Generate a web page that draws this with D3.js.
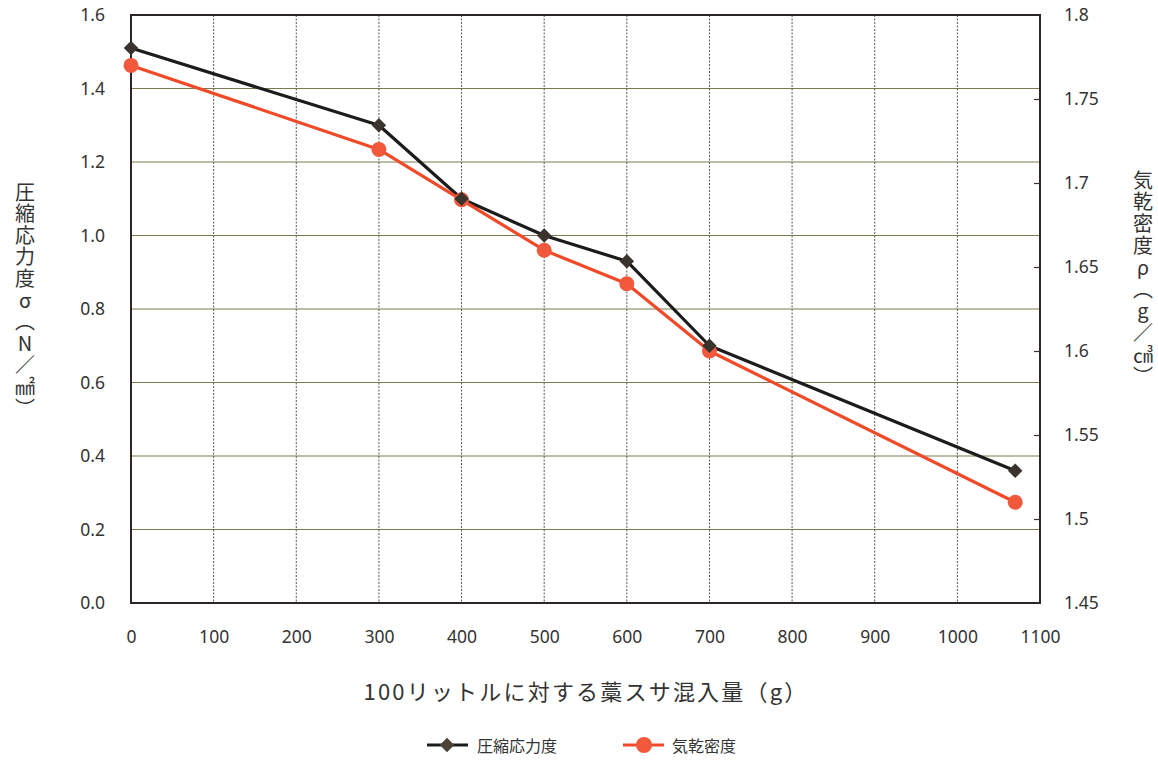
<!DOCTYPE html>
<html>
<head>
<meta charset="utf-8">
<script src="https://cdn.jsdelivr.net/npm/d3@7"></script>
<style>
  html, body { margin: 0; padding: 0; background: #fff; }
  svg { display: block; }
  text { font-family: "Noto Sans CJK JP", "Noto Sans", sans-serif; fill: #333; }
  .vtitle { writing-mode: vertical-rl; text-orientation: upright; }
</style>
</head>
<body>
<svg id="chart" width="1158" height="767"></svg>
<script>
// Straw fibre mixed per 100 litres (g)
const amounts = [0, 300, 400, 500, 600, 700, 1070];
// Compressive stress σ (N/mm²)
const stress = [1.51, 1.30, 1.10, 1.00, 0.93, 0.70, 0.36];
// Air-dry density ρ (g/cm³)
const density = [1.77, 1.72, 1.69, 1.66, 1.64, 1.60, 1.51];

const xTicks = [0, 100, 200, 300, 400, 500, 600, 700, 800, 900, 1000, 1100];
const leftTicks = [0.0, 0.2, 0.4, 0.6, 0.8, 1.0, 1.2, 1.4, 1.6];
const rightTicks = [1.45, 1.5, 1.55, 1.6, 1.65, 1.7, 1.75, 1.8];

const seriesNames = ["圧縮応力度", "気乾密度"];
const xTitle = "100リットルに対する藁スサ混入量（g）";
const leftTitle = "圧縮応力度σ（N／㎟）";
const rightTitle = "気乾密度ρ（g／㎤）";

const box = { left: 131, right: 1040, top: 15, bottom: 603 };
const svg = d3.select("#chart");

const x = d3.scaleLinear().domain([0, 1100]).range([box.left, box.right]);
const yL = d3.scaleLinear().domain([0, 1.6]).range([box.bottom, box.top]);
const yR = d3.scaleLinear().domain([1.45, 1.8]).range([box.bottom, box.top]);

const blackCol = "#1c1c1c";
const redCol = "#f04a28";

// horizontal grid
svg.append("g")
  .selectAll("line")
  .data(leftTicks.filter(d => d > 0 && d < 1.6))
  .join("line")
  .attr("x1", box.left).attr("x2", box.right)
  .attr("y1", d => yL(d)).attr("y2", d => yL(d))
  .attr("stroke", "#7d7a52").attr("stroke-width", 1.1);

// vertical grid
svg.append("g")
  .selectAll("line")
  .data(xTicks.filter(d => d > 0 && d < 1100))
  .join("line")
  .attr("x1", d => x(d)).attr("x2", d => x(d))
  .attr("y1", box.top).attr("y2", box.bottom)
  .attr("stroke", "#555").attr("stroke-width", 1)
  .attr("stroke-dasharray", "2,1.5");

// frame
svg.append("rect")
  .attr("x", box.left).attr("y", box.top)
  .attr("width", box.right - box.left).attr("height", box.bottom - box.top)
  .attr("fill", "none").attr("stroke", "#2e2624").attr("stroke-width", 2);

// axes
const fmt1 = d3.format(".1f");
const gL = svg.append("g")
  .attr("transform", `translate(${box.left},0)`)
  .call(d3.axisLeft(yL).tickValues(leftTicks).tickFormat(fmt1).tickSize(0).tickPadding(26));
const gR = svg.append("g")
  .attr("transform", `translate(${box.right},0)`)
  .call(d3.axisRight(yR).tickValues(rightTicks).tickFormat(d => String(+d.toFixed(2))).tickSizeInner(-6).tickSizeOuter(0).tickPadding(24));
const gB = svg.append("g")
  .attr("transform", `translate(0,${box.bottom})`)
  .call(d3.axisBottom(x).tickValues(xTicks).tickFormat(d3.format("d")).tickSize(0).tickPadding(28));

[gL, gR, gB].forEach(g => {
  g.select(".domain").remove();
  g.selectAll(".tick text")
    .attr("font-size", 17.5)
    .attr("fill", "#333")
    .style("font-family", "'Noto Sans', 'Open Sans', sans-serif");
});
gR.selectAll(".tick line").attr("stroke", "#3a3030").attr("stroke-width", 1.2);
// no inward ticks where the frame already closes the axis
gR.selectAll(".tick").filter(d => d === 1.45 || d === 1.8).select("line").remove();

// lines
const lineL = d3.line().x((d, i) => x(amounts[i])).y(d => yL(d));
const lineR = d3.line().x((d, i) => x(amounts[i])).y(d => yR(d));

svg.append("path").datum(stress)
  .attr("d", lineL).attr("fill", "none")
  .attr("stroke", blackCol).attr("stroke-width", 3.2).attr("stroke-linejoin", "round");

svg.append("path").datum(density)
  .attr("d", lineR).attr("fill", "none")
  .attr("stroke", redCol).attr("stroke-width", 3.2).attr("stroke-linejoin", "round");

const diamond = d3.symbol().type(d3.symbolSquare).size(105);

svg.append("g").selectAll("circle")
  .data(density)
  .join("circle")
  .attr("cx", (d, i) => x(amounts[i])).attr("cy", d => yR(d))
  .attr("r", 7.5).attr("fill", "#f2593c");

svg.append("g").selectAll("path")
  .data(stress)
  .join("path")
  .attr("d", diamond)
  .attr("transform", (d, i) => `translate(${x(amounts[i])},${yL(d)}) rotate(45)`)
  .attr("fill", "#3a342c");

// axis titles
svg.append("text")
  .attr("x", 586).attr("y", 700)
  .attr("text-anchor", "middle")
  .attr("font-size", 22)
  .attr("letter-spacing", 2.2)
  .attr("fill", "#333")
  .text(xTitle);

svg.append("text")
  .attr("class", "vtitle")
  .attr("x", 25).attr("y", 182)
  .attr("font-size", 20)
  .attr("letter-spacing", 1.6)
  .attr("fill", "#333")
  .text(leftTitle);

svg.append("text")
  .attr("class", "vtitle")
  .attr("x", 1143).attr("y", 170)
  .attr("font-size", 20)
  .attr("letter-spacing", 1.8)
  .attr("fill", "#333")
  .text(rightTitle);

// legend
const lg = svg.append("g");
lg.append("line").attr("x1", 427).attr("x2", 468).attr("y1", 745).attr("y2", 745)
  .attr("stroke", blackCol).attr("stroke-width", 3);
lg.append("path").attr("d", diamond)
  .attr("transform", "translate(447,745) rotate(45)").attr("fill", "#4a4438");
lg.append("text").attr("x", 477).attr("y", 745)
  .attr("dominant-baseline", "central").attr("font-size", 16).text(seriesNames[0]);

lg.append("line").attr("x1", 623).attr("x2", 664).attr("y1", 745).attr("y2", 745)
  .attr("stroke", redCol).attr("stroke-width", 3);
lg.append("circle").attr("cx", 644).attr("cy", 745).attr("r", 8).attr("fill", "#f2593c");
lg.append("text").attr("x", 672).attr("y", 745)
  .attr("dominant-baseline", "central").attr("font-size", 16).text(seriesNames[1]);
</script>
</body>
</html>
